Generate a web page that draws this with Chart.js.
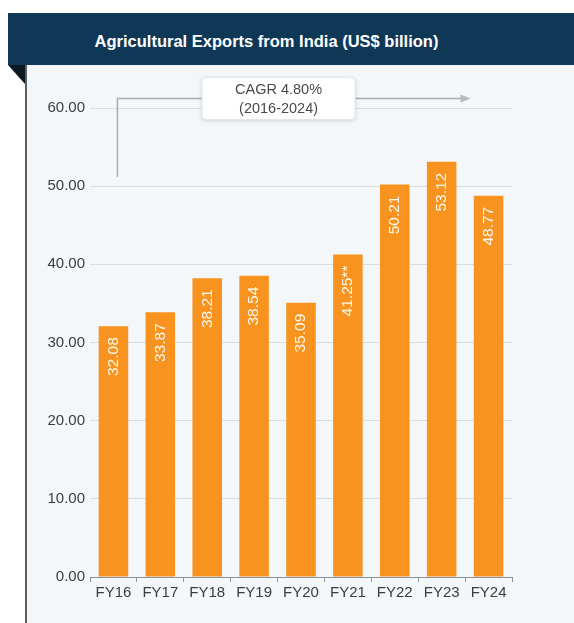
<!DOCTYPE html>
<html>
<head>
<meta charset="utf-8">
<script src="https://cdn.jsdelivr.net/npm/chart.js@4.4.1/dist/chart.umd.min.js"></script>
<style>
  body { margin: 0; background: #fff; width: 574px; height: 623px; position: relative; overflow: hidden; font-family: Arial, "Liberation Sans", sans-serif; }
  #header { position: absolute; left: 8px; top: 13px; width: 566px; height: 52px; background: #0e3856; }
  #header span { position: absolute; left: 0; width: 517px; top: 0; line-height: 56px; text-align: center; color: #fff; font-weight: bold; font-size: 16.5px; }
  #fold { position: absolute; left: 8px; top: 65px; width: 0; height: 0; border-top: 19px solid #0b1a22; border-left: 17px solid transparent; }
  #panel { position: absolute; left: 25px; top: 65px; width: 549px; height: 558px; background: #f4f7f9; border-left: 2px solid #5a5f63; box-sizing: border-box; }
  #panel canvas { position: absolute; left: 0; top: 0; }
</style>
</head>
<body>
<div id="header"><span>Agricultural Exports from India (US$ billion)</span></div>
<div id="fold"></div>
<div id="panel"><canvas id="chart" width="547" height="558"></canvas></div>
<script>
const years = ['FY16', 'FY17', 'FY18', 'FY19', 'FY20', 'FY21', 'FY22', 'FY23', 'FY24'];
const exportsBn = [32.08, 33.87, 38.21, 38.54, 35.09, 41.25, 50.21, 53.12, 48.77];
const barLabels = ['32.08', '33.87', '38.21', '38.54', '35.09', '41.25**', '50.21', '53.12', '48.77'];
const cagrText = ['CAGR 4.80%', '(2016-2024)'];

// rotated value labels inside the bars
const barText = {
  id: 'barText',
  afterDatasetsDraw(chart) {
    const ctx = chart.ctx;
    const meta = chart.getDatasetMeta(0);
    ctx.save();
    ctx.fillStyle = '#fff8ec';
    ctx.font = '15.5px Arial, "Liberation Sans", sans-serif';
    ctx.textAlign = 'right';
    ctx.textBaseline = 'middle';
    meta.data.forEach((bar, i) => {
      ctx.save();
      ctx.translate(bar.x, bar.y + 11);
      ctx.rotate(-Math.PI / 2);
      ctx.fillText(barLabels[i], 0, 0);
      ctx.restore();
    });
    ctx.restore();
  }
};

// CAGR arrow with label box
const cagr = {
  id: 'cagr',
  afterDraw(chart) {
    const ctx = chart.ctx;
    const x = chart.scales.x, y = chart.scales.y;
    const x0 = x.getPixelForValue(0) + 4;
    const yTop = y.getPixelForValue(61.2);
    const yLow = y.getPixelForValue(51.2);
    const xEnd = x.getPixelForValue(8) - 20;
    ctx.save();
    ctx.strokeStyle = '#a9adb1';
    ctx.lineWidth = 1.5;
    ctx.beginPath();
    ctx.moveTo(x0, yLow);
    ctx.lineTo(x0, yTop);
    ctx.lineTo(xEnd - 6, yTop);
    ctx.stroke();
    ctx.fillStyle = '#b5b9bd';
    ctx.beginPath();
    ctx.moveTo(xEnd + 2, yTop);
    ctx.lineTo(xEnd - 8, yTop - 4);
    ctx.lineTo(xEnd - 8, yTop + 4);
    ctx.closePath();
    ctx.fill();

    const cx = (x.getPixelForValue(3) + x.getPixelForValue(4)) / 2 + 1;
    const bw = 153, bh = 42;
    const bx = cx - bw / 2, by = yTop - 21;
    ctx.shadowColor = 'rgba(0,0,0,0.18)';
    ctx.shadowBlur = 4;
    ctx.shadowOffsetY = 1;
    ctx.fillStyle = '#ffffff';
    ctx.beginPath();
    ctx.roundRect(bx, by, bw, bh, 4);
    ctx.fill();
    ctx.shadowColor = 'transparent';
    ctx.strokeStyle = '#e3e6e9';
    ctx.lineWidth = 1;
    ctx.stroke();
    ctx.fillStyle = '#4a4a4a';
    ctx.font = '14.5px Arial, "Liberation Sans", sans-serif';
    ctx.textAlign = 'center';
    ctx.textBaseline = 'middle';
    ctx.fillText(cagrText[0], cx, by + 12);
    ctx.fillText(cagrText[1], cx, by + 31);
    ctx.restore();
  }
};

new Chart(document.getElementById('chart').getContext('2d'), {
  type: 'bar',
  data: {
    labels: years,
    datasets: [{
      label: 'Agricultural exports',
      data: exportsBn,
      backgroundColor: '#f7931e',
      borderWidth: 0,
      barPercentage: 0.63,
      categoryPercentage: 1
    }]
  },
  options: {
    responsive: false,
    animation: false,
    layout: { padding: { top: 43, right: 62, bottom: 14, left: 0 } },
    plugins: {
      legend: { display: false },
      tooltip: { enabled: false }
    },
    scales: {
      y: {
        min: 0,
        max: 60,
        ticks: {
          stepSize: 10,
          padding: 5,
          color: '#3c3c3c',
          font: { size: 15, family: 'Arial, "Liberation Sans", sans-serif' },
          callback: v => v.toFixed(2)
        },
        grid: { color: '#d9dde1', drawTicks: false },
        border: { display: false },
        afterFit: s => { s.width = 63; }
      },
      x: {
        grid: { drawOnChartArea: false, drawTicks: true, tickLength: 5, color: '#8c9195' },
        border: { display: true, color: '#8c9195' },
        ticks: {
          padding: 2,
          color: '#3c3c3c',
          font: { size: 15, family: 'Arial, "Liberation Sans", sans-serif' }
        },
        afterFit: s => { s.height = 32; }
      }
    }
  },
  plugins: [barText, cagr]
});
</script>
</body>
</html>
